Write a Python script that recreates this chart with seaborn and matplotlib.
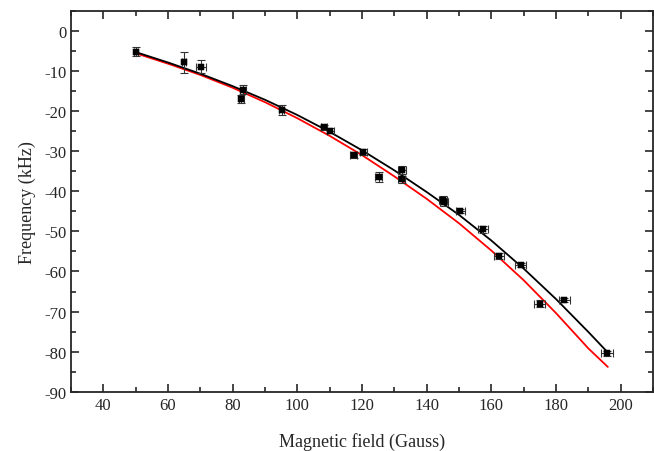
import numpy as np
import pandas as pd
import matplotlib
import matplotlib.pyplot as plt
import seaborn as sns
from matplotlib.ticker import MultipleLocator

matplotlib.use('Agg')

campo = [50.0, 65.0, 70.2, 82.6, 83.2, 95.2, 108.2, 110.2, 117.4, 120.4, 125.1,
         132.4, 132.2, 145.4, 145.0, 150.3, 157.4, 162.4, 169.0, 174.9, 182.6, 195.8]
freq = [-5.2, -7.8, -8.9, -17.0, -14.7, -19.7, -24.1, -24.9, -31.0, -30.2, -36.5,
        -34.7, -37.0, -42.7, -42.3, -45.0, -49.5, -56.2, -58.3, -68.0, -67.0, -80.4]
erro_campo = [0.6, 0.6, 1.6, 0.8, 0.8, 0.8, 1.0, 1.0, 1.0, 1.0, 1.2,
              1.2, 1.2, 1.2, 1.2, 1.4, 1.4, 1.6, 1.8, 1.6, 1.8, 1.8]
erro_freq = [1.2, 2.6, 1.6, 1.1, 1.1, 1.2, 0.6, 0.6, 0.7, 0.7, 1.3,
             0.9, 0.9, 1.0, 1.0, 0.5, 0.8, 0.8, 0.5, 0.9, 0.5, 0.6]

# --- curvas (ajuste em preto, teoria em vermelho) ---
curva_campo = [50, 60, 70, 80, 90, 100, 110, 120, 130, 140, 150, 160, 170, 180, 190, 196]
curva_preta = [-5.3, -7.9, -10.7, -13.8, -17.2, -21.0, -25.2, -29.8, -34.8, -40.2,
               -45.9, -52.3, -59.3, -66.9, -75.1, -80.2]
curva_vermelha = [-5.6, -8.2, -11.0, -14.2, -17.8, -21.8, -26.2, -31.0, -36.3, -41.9,
                  -48.0, -54.8, -62.2, -70.4, -79.2, -83.8]

df_pts = pd.DataFrame({'B': campo, 'F': freq})
df_curvas = pd.DataFrame({'B': curva_campo, 'preta': curva_preta, 'vermelha': curva_vermelha})

sns.set_style('ticks')
plt.rcParams['font.family'] = ['Liberation Serif', 'DejaVu Serif']
plt.rcParams['axes.unicode_minus'] = False

fig = plt.figure(figsize=(6.54, 4.52), dpi=100)
ax = fig.add_axes([0.1086, 0.131, 0.89, 0.843])

sns.lineplot(data=df_curvas, x='B', y='vermelha', color='red', lw=1.3, ax=ax, zorder=2)
sns.lineplot(data=df_curvas, x='B', y='preta', color='black', lw=1.3, ax=ax, zorder=3)

ax.errorbar(campo, freq, xerr=erro_campo, yerr=erro_freq, fmt='none',
            ecolor='#333333', elinewidth=0.8, capsize=3, capthick=0.8, zorder=4)
sns.scatterplot(data=df_pts, x='B', y='F', marker='s', s=20, color='black',
                edgecolor='black', ax=ax, zorder=5)

ax.set_xlim(30, 210)
ax.set_ylim(-90, 5)
ax.xaxis.set_major_locator(MultipleLocator(20))
ax.xaxis.set_minor_locator(MultipleLocator(10))
ax.yaxis.set_major_locator(MultipleLocator(10))
ax.yaxis.set_minor_locator(MultipleLocator(5))
ax.tick_params(which='both', direction='in', top=True, right=True,
               labeltop=False, labelright=False, width=1.2, labelsize=12)
ax.tick_params(which='major', length=6)
ax.tick_params(which='minor', length=3.5)
for s in ax.spines.values():
    s.set_linewidth(1.3)

ax.set_xlabel('Magnetic field (Gauss)', fontsize=13, labelpad=14)
ax.set_ylabel('Frequency (kHz)', fontsize=13, labelpad=6)

plt.savefig('out.png', dpi=100)
